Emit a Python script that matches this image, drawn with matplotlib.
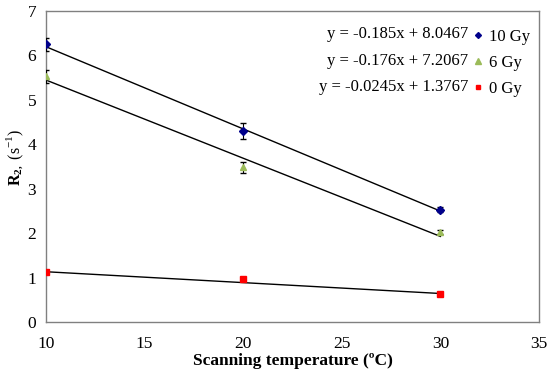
import numpy as np
import matplotlib
matplotlib.use("Agg")
import matplotlib.pyplot as plt
from matplotlib.lines import Line2D

plt.rcParams['font.family'] = ['Liberation Serif', 'DejaVu Serif']
plt.rcParams['mathtext.fontset'] = 'custom'
plt.rcParams['mathtext.rm'] = 'Liberation Serif'
plt.rcParams['mathtext.bf'] = 'Liberation Serif:bold'

# data
temps = [10, 20, 30]
r2_10gy = [6.25, 4.30, 2.53]
err_10gy = [0.15, 0.18, 0.05]
r2_6gy = [5.53, 3.48, 2.02]
err_6gy = [0.15, 0.12, 0.05]
r2_0gy = [1.12, 0.96, 0.62]
err_0gy = [0.03, 0.03, 0.02]

# trend line coefficients (slope, intercept) as printed on the chart
fit_10gy = [-0.185, 8.0467]
fit_6gy = [-0.176, 7.2067]
fit_0gy = [-0.0245, 1.3767]
labels = ['10 Gy', '6 Gy', '0 Gy']
eq_text = ['y = -0.185x + 8.0467', 'y = -0.176x + 7.2067', 'y = -0.0245x + 1.3767']

fig = plt.figure(figsize=(5.5, 3.7), dpi=100)
ax = fig.add_axes([0.0836, 0.1297, 0.8964, 0.8405])

xs = np.array([10, 30])
for fit in [fit_10gy, fit_6gy, fit_0gy]:
    ax.plot(xs, fit[0] * xs + fit[1], color='black', lw=1.0, zorder=2)

ax.errorbar(temps, r2_10gy, yerr=err_10gy, fmt='D', color='#00008B', ms=4,
            ecolor='black', elinewidth=0.8, capsize=2.5, zorder=3)
ax.errorbar(temps, r2_6gy, yerr=err_6gy, fmt='^', color='#9BBB59', ms=5,
            ecolor='black', elinewidth=0.8, capsize=2.5, zorder=3)
ax.errorbar(temps, r2_0gy, yerr=err_0gy, fmt='s', color='#FF0000', ms=4,
            ecolor='black', elinewidth=0.8, capsize=2, zorder=3)

ax.set_xlim(10, 35)
ax.set_ylim(0, 7)
ax.set_xticks([10, 15, 20, 25, 30, 35])
ax.set_yticks(range(0, 8))
ax.tick_params(length=0, labelsize=12.5)
ax.tick_params(axis='x', pad=10)
ax.tick_params(axis='y', pad=7)
for s in ax.spines.values():
    s.set_color('#808080')
    s.set_linewidth(1.0)

ax.set_xlabel('Scanning temperature (ºC)', fontsize=12.5, fontweight='bold', labelpad=1)
# y label placed by hand, like the reference sits a bit above centre
fig.text(15 / 550, 1 - 157 / 370, '$\\mathbf{R}_{\\mathbf{2,}}$ (s$^{-1}$)', fontsize=11.5,
         rotation=90, ha='center', va='center')

handles = [
    Line2D([], [], ls='none', marker='D', color='#00008B', ms=3),
    Line2D([], [], ls='none', marker='^', color='#9BBB59', ms=4),
    Line2D([], [], ls='none', marker='s', color='#FF0000', ms=3),
]
ax.legend(handles, labels, loc='upper right', bbox_to_anchor=(1.012, 0.99), frameon=False,
          fontsize=12, handletextpad=0.25, handlelength=0.8, labelspacing=0.6)

eq_y = [0.926, 0.839, 0.757]
for t, yy in zip(eq_text, eq_y):
    ax.text(0.857, yy, t, transform=ax.transAxes, ha='right', va='center', fontsize=12)

fig.savefig('out.png', dpi=100)
